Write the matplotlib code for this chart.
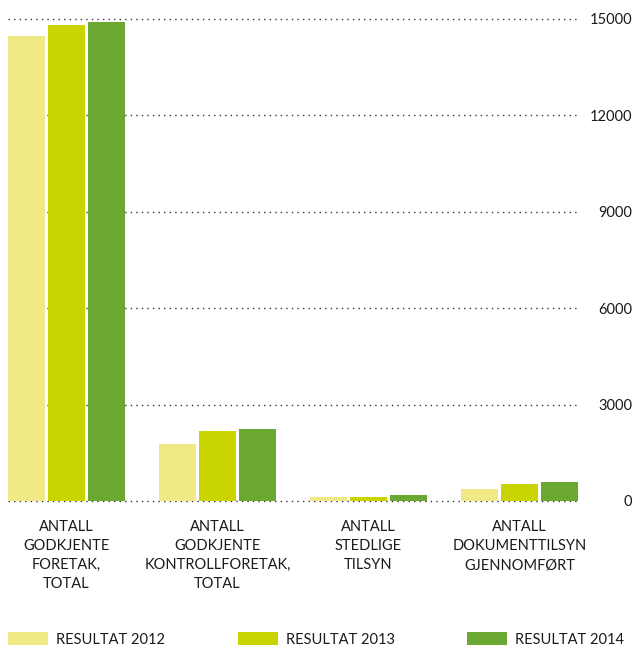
import numpy as np
import matplotlib
matplotlib.use('Agg')
from matplotlib import pyplot as plt

plt.rcParams['font.family'] = ['Lato', 'DejaVu Sans']

# data
categories = ['ANTALL\nGODKJENTE\nFORETAK,\nTOTAL',
              'ANTALL\nGODKJENTE\nKONTROLLFORETAK,\nTOTAL',
              'ANTALL\nSTEDLIGE\nTILSYN',
              'ANTALL\nDOKUMENTTILSYN\nGJENNOMFØRT']
series_names = ['RESULTAT 2012', 'RESULTAT 2013', 'RESULTAT 2014']
res_2012 = [14470, 1770, 140, 360]
res_2013 = [14810, 2180, 130, 520]
res_2014 = [14910, 2240, 175, 580]
yticks = [0, 3000, 6000, 9000, 12000, 15000]

colors = ['#F0E986', '#C9D400', '#6AA832']
txt = '#1a1a1a'

fig = plt.figure(figsize=(6.37, 6.48), dpi=100)
ax = fig.add_axes([8 / 637, 1 - 501 / 648, 570 / 637, 482 / 648])

x = np.arange(len(categories))
step = 0.265
width = 0.245
for i, vals in enumerate([res_2012, res_2013, res_2014]):
    ax.bar(x + (i - 1) * step, vals, width, color=colors[i],
           label=series_names[i], zorder=2)

ax.set_xlim(-0.3875, 3.3875)
ax.set_ylim(0, 15000)

# dotted grid
ax.set_yticks(yticks)
ax.yaxis.grid(True, linestyle=(0, (1, 3)), color='#333333', linewidth=1.0, zorder=1)
ax.xaxis.grid(False)
for gl in ax.get_ygridlines():
    gl.set_clip_on(False)

ax.yaxis.tick_right()
ax.tick_params(axis='y', length=0, pad=39, labelsize=10.5, labelcolor=txt)
for lab in ax.get_yticklabels():
    lab.set_horizontalalignment('right')

ax.set_xticks(x)
ax.set_xticklabels(categories, fontsize=10.5, color=txt, linespacing=1.45)
ax.tick_params(axis='x', length=0, pad=14)

for s in ax.spines.values():
    s.set_visible(False)

leg = fig.legend(loc='lower left', bbox_to_anchor=(-2 / 637, -9 / 648), ncol=3,
                 frameon=False, fontsize=10.5, handlelength=2.75,
                 handleheight=0.95, handletextpad=0.55, columnspacing=4.95,
                 borderaxespad=0.3)
for t in leg.get_texts():
    t.set_color(txt)

plt.savefig('out.png', dpi=100)
